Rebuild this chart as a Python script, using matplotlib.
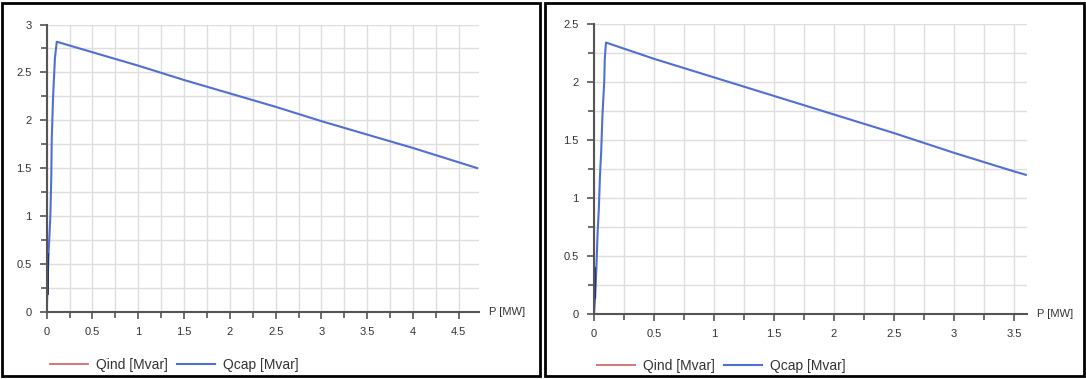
import matplotlib.pyplot as plt
from matplotlib.patches import Rectangle
from matplotlib.ticker import MultipleLocator

plt.rcParams['font.family'] = ['Liberation Sans', 'DejaVu Sans']

# left chart: Qcap vs P
p_left = [0.0, 0.02, 0.04, 0.05, 0.055, 0.07, 0.09, 0.11,
          0.5, 1.0, 1.5, 2.0, 2.5, 3.0, 3.5, 4.0, 4.5, 4.7]
qcap_left = [0.0, 0.6, 1.0, 1.4, 1.8, 2.25, 2.65, 2.82,
             2.71, 2.57, 2.42, 2.28, 2.14, 1.99, 1.85, 1.71, 1.56, 1.5]
p_left_dense = [0.0, 0.0]
q_left_dense = [0.2, 0.6]

# right chart: Qcap vs P
p_right = [0.0, 0.01, 0.02, 0.03, 0.04, 0.05, 0.06, 0.07, 0.085, 0.09, 0.1,
           0.5, 1.0, 1.5, 2.0, 2.5, 3.0, 3.5, 3.6]
qcap_right = [0.0, 0.15, 0.4, 0.7, 0.9, 1.2, 1.4, 1.7, 2.0, 2.2, 2.34,
              2.2, 2.04, 1.88, 1.72, 1.56, 1.39, 1.23, 1.2]
p_right_dense = [0.0, 0.0]
q_right_dense = [0.15, 0.4]

qind_label = 'Qind [Mvar]'
qcap_label = 'Qcap [Mvar]'
x_label = 'P [MW]'

blue = '#4f6fd4'
red = '#d46a6a'
axis_col = '#555555'
text_col = '#333333'

W, H = 1086, 379
fig = plt.figure(figsize=(W / 100, H / 100), dpi=100)


def setup(ax, xmax, ymax):
    ax.set_xlim(0, xmax)
    ax.set_ylim(0, ymax)
    ax.xaxis.set_major_locator(MultipleLocator(0.5))
    ax.xaxis.set_minor_locator(MultipleLocator(0.25))
    ax.yaxis.set_major_locator(MultipleLocator(0.5))
    ax.yaxis.set_minor_locator(MultipleLocator(0.25))
    ax.grid(True, which='both', color='#dedede', lw=1)
    ax.set_axisbelow(True)
    ax.xaxis.set_major_formatter(lambda v, pos: f'{v:g}')
    ax.yaxis.set_major_formatter(lambda v, pos: f'{v:g}')
    for s in ['top', 'right']:
        ax.spines[s].set_visible(False)
    for s in ['left', 'bottom']:
        ax.spines[s].set_color(axis_col)
        ax.spines[s].set_linewidth(1.5)
    ax.tick_params(which='both', direction='out', color=axis_col, width=1.2,
                   labelsize=8, labelcolor=text_col)
    ax.tick_params(which='major', length=5, pad=6)
    ax.tick_params(which='minor', length=4)
    ax.text(1.022, 0, x_label, transform=ax.get_yaxis_transform(),
            fontsize=8, color=text_col, va='center', ha='left')


ax1 = fig.add_axes([46.7 / W, 1 - 311.7 / H, (479 - 46.7) / W, (311.7 - 24.5) / H])
setup(ax1, 4.72, 3)
ax1.plot([], [], color=red, lw=1.3, label=qind_label)
ax1.plot(p_left, qcap_left, color=blue, lw=1.5, label=qcap_label)
ax1.plot(p_left_dense, q_left_dense, color='#1c2a6e', lw=2)

ax2 = fig.add_axes([594 / W, 1 - 314 / H, (1027 - 594) / W, (314 - 24) / H])
setup(ax2, 3.61, 2.5)
ax2.plot([], [], color=red, lw=1.3, label=qind_label)
ax2.plot(p_right, qcap_right, color=blue, lw=1.5, label=qcap_label)
ax2.plot(p_right_dense, q_right_dense, color='#1c2a6e', lw=2)

for ax, x0, y0 in [(ax1, 50, 365), (ax2, 597, 366)]:
    fig.legend(*ax.get_legend_handles_labels(), loc='center left',
               bbox_to_anchor=(x0 / W, 1 - y0 / H), ncol=2, frameon=False,
               fontsize=10, handlelength=2.7, handletextpad=0.6,
               columnspacing=0.7, borderpad=0, borderaxespad=0,
               labelcolor=text_col)

# panel frames
fig.add_artist(Rectangle((2 / W, 3 / H), 538 / W, 373 / H, transform=fig.transFigure,
                         fill=False, ec='black', lw=2))
fig.add_artist(Rectangle((545 / W, 3 / H), 539 / W, 373 / H, transform=fig.transFigure,
                         fill=False, ec='black', lw=2))

fig.savefig('out.png', dpi=100)
